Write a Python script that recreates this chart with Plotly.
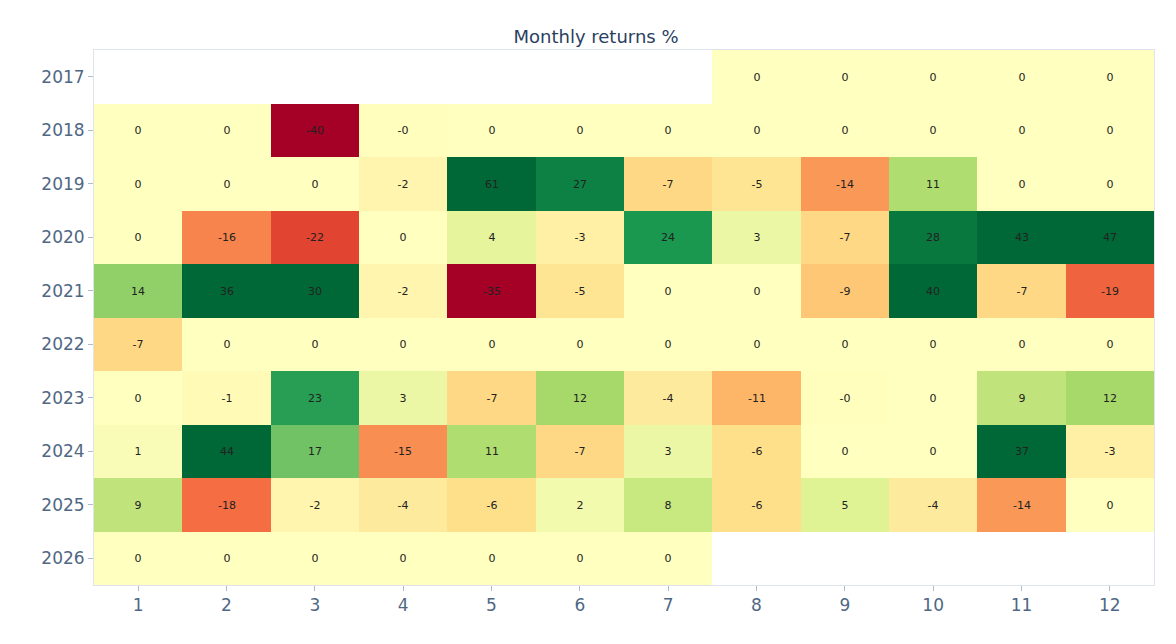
import plotly.graph_objects as go

months = list(range(1, 13))
years = [2017, 2018, 2019, 2020, 2021, 2022, 2023, 2024, 2025, 2026]

returns = [
    [None, None, None, None, None, None, None, 0, 0, 0, 0, 0],
    [0, 0, -40, -0.2, 0, 0, 0, 0, 0, 0, 0, 0],
    [0, 0, 0, -2, 61, 27, -7, -5, -14, 11, 0, 0],
    [0, -16, -22, 0, 4, -3, 24, 3, -7, 28, 43, 47],
    [14, 36, 30, -2, -35, -5, 0, 0, -9, 40, -7, -19],
    [-7, 0, 0, 0, 0, 0, 0, 0, 0, 0, 0, 0],
    [0, -1, 23, 3, -7, 12, -4, -11, -0.2, 0, 9, 12],
    [1, 44, 17, -15, 11, -7, 3, -6, 0, 0, 37, -3],
    [9, -18, -2, -4, -6, 2, 8, -6, 5, -4, -14, 0],
    [0, 0, 0, 0, 0, 0, 0, None, None, None, None, None],
]

labels = [["" if v is None else f"{v:.0f}" for v in row] for row in returns]

fig = go.Figure(
    go.Heatmap(
        x=months,
        y=years,
        z=returns,
        text=labels,
        texttemplate="%{text}",
        textfont=dict(size=11, color="#222222", family="DejaVu Sans"),
        colorscale="RdYlGn",
        zmin=-30,
        zmax=30,
        showscale=False,
        hoverongaps=False,
    )
)

fig.update_layout(
    template="plotly_white",
    font=dict(family="DejaVu Sans"),
    title=dict(text="Monthly returns %", x=0.5, y=0.965, font=dict(size=18, color="#2a3f5f")),
    width=1176,
    height=644,
    margin=dict(l=86, r=30, t=42, b=67),
    xaxis=dict(tickmode="array", tickvals=months, ticks="outside", tickcolor="#b0bccc",
               showline=True, mirror=True, linecolor="#dfe4ec", showgrid=False,
               tickfont=dict(size=17, color="#506784")),
    yaxis=dict(tickmode="array", tickvals=years, autorange="reversed", ticks="outside",
               tickcolor="#b0bccc", showline=True, mirror=True, linecolor="#dfe4ec",
               showgrid=False, tickfont=dict(size=17, color="#506784")),
)

fig.write_html("out.html")
